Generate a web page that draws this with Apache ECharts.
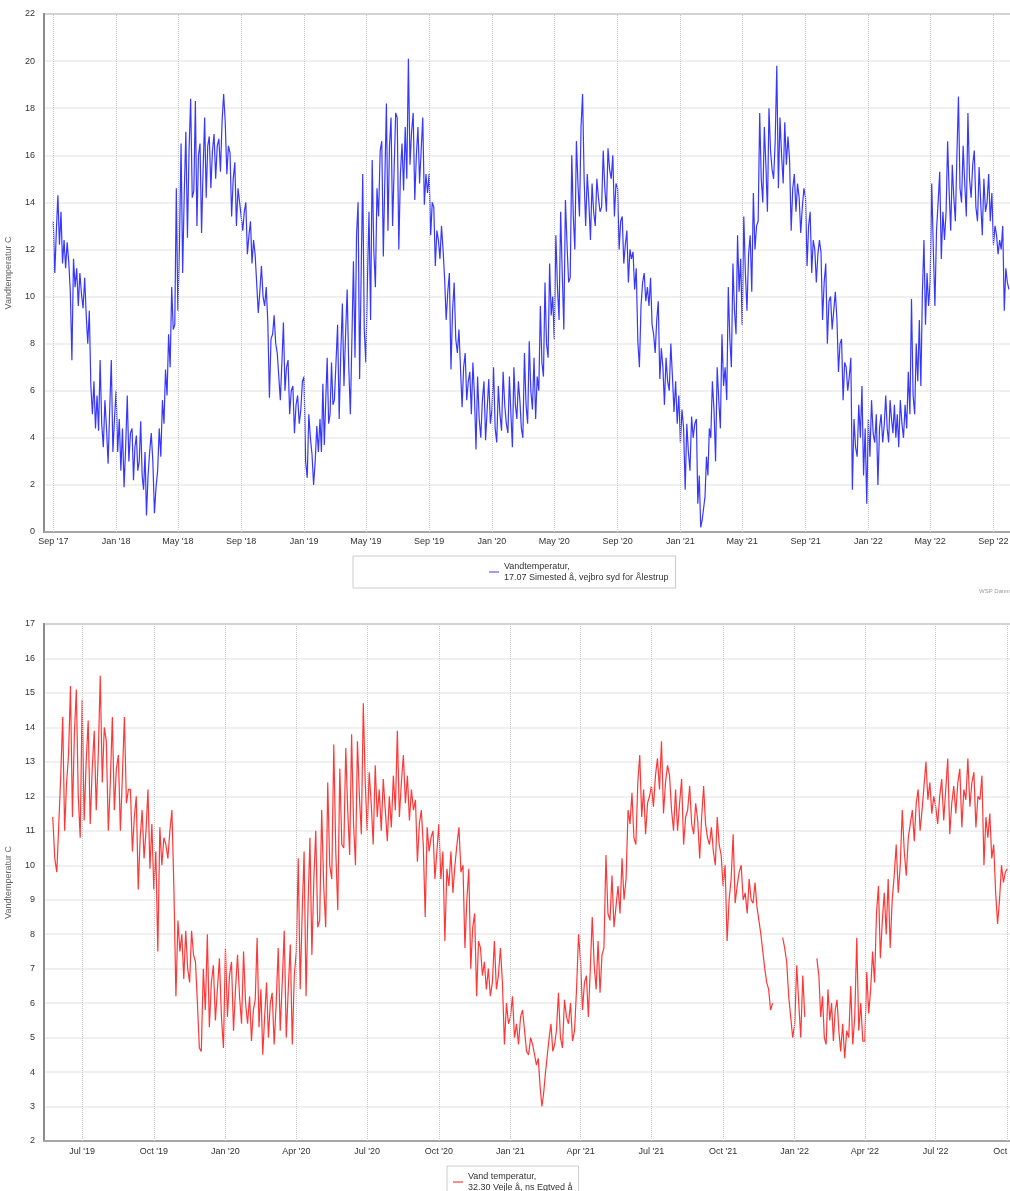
<!DOCTYPE html>
<html>
<head>
<meta charset="utf-8">
<title>Vandtemperatur</title>
<script src="https://cdn.jsdelivr.net/npm/echarts@6/dist/echarts.min.js"></script>
<style>
  html, body { margin: 0; padding: 0; background: #fff; }
  #chart { width: 1010px; height: 1191px; }
</style>
</head>
<body>
<div id="chart"></div>
<script>
// top station: 10 readings per month, from Sep 2017
const topStart = [2017, 9];
const topPerMonth = 10;
const topTemp = [
  13.2, 11.0, 12.8, 14.3, 12.2, 13.6, 11.4, 12.4, 11.2, 12.3,
  11.5, 10.2, 7.3, 11.6, 10.4, 11.2, 9.6, 11.0, 10.1, 9.5,
  10.8, 9.2, 8.0, 9.4, 6.2, 5.0, 6.4, 4.4, 5.8, 4.3,
  7.3, 4.6, 3.6, 5.6, 4.4, 2.9, 5.2, 7.3, 3.4, 4.8,
  6.0, 3.4, 4.8, 2.6, 4.4, 1.9, 3.6, 5.8, 3.0, 4.2,
  4.4, 2.2, 3.6, 4.1, 2.6, 3.0, 4.7, 2.4, 1.8, 3.4,
  0.7, 2.4, 3.4, 4.2, 3.0, 0.8, 1.9, 2.6, 4.4, 3.2,
  5.6, 4.6, 6.9, 5.8, 8.4, 7.0, 10.4, 8.6, 8.8, 14.6,
  9.4, 12.2, 16.5, 11.0, 14.4, 17.0, 12.5, 16.2, 18.4, 14.2,
  14.5, 18.3, 13.0, 16.0, 16.5, 12.7, 15.4, 17.6, 14.2, 16.4,
  16.8, 14.6, 16.2, 16.9, 15.0, 16.4, 16.7, 15.3, 17.4, 18.6,
  17.4, 15.2, 16.4, 16.1, 13.4, 15.0, 15.7, 13.0, 14.6, 14.0,
  14.0, 12.8, 13.6, 14.0, 11.8, 12.6, 13.2, 11.4, 12.4, 11.8,
  10.6, 9.3, 10.2, 11.3, 10.0, 9.6, 10.4, 8.9, 5.7, 8.2,
  8.4, 9.2, 8.0, 7.6, 6.6, 5.6, 7.2, 8.9, 6.0, 7.0,
  7.3, 5.0, 6.0, 6.2, 4.2, 5.4, 5.8, 4.6, 5.2, 6.4,
  6.6, 3.0, 2.3, 5.0, 4.0, 3.3, 2.0, 3.0, 4.5, 3.4,
  4.8, 3.4, 6.3, 3.7, 5.6, 7.4, 4.6, 5.0, 7.2, 5.4,
  5.6, 7.2, 8.8, 4.8, 7.6, 9.7, 6.2, 8.4, 10.3, 7.0,
  5.0, 8.2, 11.5, 7.4, 12.6, 14.0, 6.5, 11.0, 15.2, 8.6,
  7.2, 10.6, 13.6, 9.0, 15.8, 12.0, 10.4, 14.6, 13.4, 16.2,
  16.6, 11.7, 15.0, 18.2, 12.8, 16.4, 17.6, 13.0, 15.4, 17.8,
  17.6, 12.0, 15.2, 16.5, 14.5, 17.2, 15.0, 20.1, 15.6, 17.0,
  17.8, 14.1, 16.0, 17.2, 14.8, 16.2, 17.6, 13.9, 15.2, 14.4,
  15.2, 12.6, 14.0, 13.8, 11.3, 12.8, 12.4, 11.6, 13.0, 12.0,
  10.8, 9.0, 10.2, 11.0, 6.9, 9.4, 10.6, 8.2, 7.6, 8.6,
  6.9, 5.3, 7.0, 7.6, 5.6, 6.4, 6.8, 5.0, 7.2, 5.8,
  3.5, 6.6, 4.8, 4.0, 5.6, 6.4, 3.9, 5.2, 6.5, 4.6,
  5.2, 7.0, 4.4, 3.8, 6.2, 5.0, 4.3, 6.8, 5.4, 4.6,
  4.2, 6.6, 5.0, 3.6, 7.0, 5.4, 4.8, 6.4, 5.6, 4.4,
  4.0, 7.6, 5.4, 4.6, 8.1, 6.0, 5.2, 7.4, 4.8, 6.6,
  6.0, 9.6, 7.2, 6.6, 10.6, 8.0, 7.4, 11.4, 9.2, 10.0,
  8.2, 12.6, 10.4, 9.0, 13.6, 11.0, 8.6, 14.1, 12.2, 10.6,
  10.8, 16.0, 13.4, 12.0, 16.6, 14.8, 13.4, 17.2, 18.6, 15.0,
  13.0, 15.2, 14.0, 12.4, 14.8, 13.6, 13.0, 15.0, 14.2, 13.6,
  13.8, 16.2, 14.6, 13.6, 16.3, 15.4, 15.0, 16.0, 13.4, 14.8,
  14.6, 12.0, 13.2, 13.4, 11.4, 12.2, 12.8, 10.6, 12.0, 11.6,
  11.9, 10.3, 11.2, 8.1, 7.0, 9.6, 10.6, 11.0, 9.8, 10.4,
  9.6, 10.8, 8.8, 8.4, 7.6, 9.0, 9.8, 6.5, 7.8, 7.0,
  5.4, 7.4, 6.4, 6.0, 8.0, 6.6, 5.1, 6.4, 4.6, 5.8,
  3.8, 5.2, 4.4, 1.8, 4.6, 3.4, 2.6, 4.9, 4.0, 4.6,
  4.8, 1.2, 2.4, 0.2, 0.5, 1.0, 1.5, 3.2, 2.4, 4.4,
  4.0, 6.4, 5.2, 3.0, 7.0, 5.6, 4.4, 8.4, 6.2, 7.0,
  5.6, 10.4, 8.2, 7.0, 11.4, 9.4, 8.4, 12.6, 10.2, 11.6,
  8.8, 13.4, 11.0, 9.4, 11.8, 12.6, 10.2, 14.4, 12.0, 13.0,
  13.2, 17.8, 15.0, 14.0, 17.2, 15.6, 13.6, 18.0, 16.2, 15.4,
  15.0, 16.6, 19.8, 14.6, 17.6, 16.0, 14.8, 17.4, 15.6, 16.8,
  15.8, 12.8, 14.6, 15.2, 13.6, 14.8, 14.2, 12.7, 13.8, 14.6,
  14.2, 11.3, 13.0, 13.6, 11.0, 12.4, 12.0, 10.6, 11.8, 12.4,
  11.9, 9.0, 10.6, 11.4, 8.0, 9.8, 10.0, 8.6, 9.4, 10.2,
  9.0, 6.8, 8.0, 8.2, 5.6, 7.2, 7.0, 6.0, 6.6, 7.4,
  1.8, 4.8, 3.6, 3.2, 5.4, 4.0, 6.2, 2.4, 4.4, 1.2,
  4.8, 3.2, 5.6, 4.2, 3.8, 5.0, 2.0, 4.4, 5.0, 3.8,
  4.6, 5.8, 4.4, 3.8, 5.6, 4.8, 4.2, 5.4, 4.0, 5.0,
  3.6, 5.6, 4.6, 4.0, 5.4, 4.4, 6.8, 5.0, 9.9, 5.8,
  5.0, 8.0, 6.4, 9.0, 6.2, 10.2, 12.4, 8.8, 11.0, 9.6,
  10.6, 14.8, 12.0, 9.6, 12.8, 14.0, 15.3, 11.6, 13.6, 12.4,
  13.6, 16.6, 14.4, 12.8, 15.6, 14.2, 13.2, 16.0, 18.5, 14.6,
  14.0, 16.4, 14.8, 13.4, 17.8, 15.0, 14.2, 15.6, 16.2, 13.8,
  13.2, 15.5, 14.0, 12.6, 15.0, 13.6, 14.0, 15.2, 13.2, 14.4,
  12.2, 13.0, 12.6, 11.8, 12.4, 12.0, 13.0, 9.4, 11.2, 10.6,
  10.3
];

// bottom station: 12 readings per month, from May 2019 (null = no reading)
const bottomStart = [2019, 5];
const bottomPerMonth = 12;
const bottomTemp = [
  null, null, null, null, null, null, null, null, null, 11.4, 10.2, 9.8,
  11.2, 12.6, 14.3, 11.0, 12.4, 13.2, 15.2, 11.4, 13.8, 15.1, 12.0, 10.8,
  14.8, 11.3, 13.0, 14.2, 11.2, 12.8, 13.9, 11.6, 13.2, 15.5, 12.4, 14.0,
  13.6, 11.0, 12.4, 14.3, 11.6, 12.8, 13.2, 11.0, 12.6, 14.3, 11.8, 12.2,
  12.2, 10.4, 11.4, 12.0, 9.3, 10.8, 11.6, 10.2, 11.0, 12.2, 9.9, 11.2,
  9.3, 10.4, 7.5, 11.1, 10.0, 10.8, 10.6, 10.2, 11.0, 11.6, 9.3, 6.2,
  8.4, 7.5, 8.0, 6.7, 8.1, 7.0, 6.6, 8.1, 7.4, 7.2, 6.0, 4.7,
  4.6, 7.0, 5.8, 8.0, 5.3, 6.6, 7.1, 5.5, 6.4, 7.3, 5.6, 4.7,
  7.6, 5.6, 6.8, 7.2, 5.2, 6.4, 7.4, 6.2, 5.4, 7.5, 6.0, 5.4,
  6.2, 4.9, 5.8, 6.1, 7.9, 5.3, 6.4, 4.5, 5.6, 6.6, 5.0, 6.0,
  6.3, 4.8, 6.0, 7.6, 5.2, 6.6, 8.1, 5.0, 6.4, 7.7, 4.8, 6.8,
  7.5, 10.2, 6.4, 8.6, 10.4, 6.2, 8.8, 10.8, 7.4, 9.6, 11.0, 8.2,
  8.4, 11.6, 9.4, 8.2, 12.4, 10.0, 9.6, 13.5, 10.4, 8.7, 12.8, 10.6,
  10.5, 13.4, 11.6, 10.3, 13.8, 11.2, 10.0, 13.6, 12.0, 10.9, 14.7, 12.4,
  11.0, 12.7, 11.8, 10.6, 12.9, 11.4, 12.2, 11.0, 12.5, 11.6, 10.7, 12.0,
  11.1, 12.6, 11.6, 13.9, 11.4, 12.4, 13.2, 11.8, 12.6, 11.3, 12.2, 11.6,
  11.9, 10.1, 11.2, 11.6, 10.6, 8.5, 11.1, 10.4, 10.8, 11.0, 9.6, 10.4,
  11.2, 9.6, 10.4, 7.8, 9.9, 9.4, 10.4, 9.2, 10.0, 10.6, 11.1, 9.8,
  10.0, 7.6, 9.0, 9.9, 7.0, 8.2, 8.6, 6.2, 7.8, 7.6, 6.8, 7.2,
  6.4, 7.0, 6.2, 6.6, 7.8, 6.4, 6.8, 7.6, 6.6, 4.8, 6.0, 5.4,
  5.6, 6.2, 5.0, 5.4, 4.8, 5.6, 5.8, 5.2, 4.6, 4.5, 5.0, 4.8,
  4.5, 4.2, 4.4, 3.6, 3.0, 3.4, 4.0, 4.5, 5.0, 5.4, 4.6, 4.8,
  5.2, 6.3, 5.0, 4.7, 6.1, 5.6, 5.4, 6.0, 4.9, 5.2, 6.4, 8.0,
  7.2, 5.8, 6.6, 6.8, 5.6, 7.0, 8.5, 7.1, 6.4, 7.8, 6.3, 7.4,
  7.6, 10.3, 8.6, 8.4, 9.7, 8.2, 8.8, 9.4, 8.6, 10.2, 9.0, 9.6,
  11.6, 11.2, 12.1, 10.8, 10.6, 12.4, 13.2, 11.4, 12.2, 10.9, 11.8, 12.0,
  12.3, 11.7, 12.6, 13.1, 12.2, 13.6, 11.5, 12.4, 12.9, 12.6, 11.6, 11.0,
  12.2, 11.0, 11.8, 12.5, 10.6, 11.4, 11.6, 12.3, 11.2, 10.9, 11.8, 11.3,
  10.2, 11.4, 12.3, 11.2, 10.8, 10.6, 11.1, 10.4, 10.0, 11.4, 10.6, 10.3,
  9.4, 10.0, 7.8, 9.0, 9.6, 10.9, 8.9, 9.4, 9.8, 10.0, 9.0, 9.2,
  8.6, 9.6, 9.0, 8.9, 9.5, 8.8, 8.4, 8.0, 7.5, 7.0, 6.6, 6.4,
  5.8, 6.0, null, null, null, null, 7.9, 7.6, 7.2, 6.2, 5.6, 5.0,
  5.4, 7.1, 6.0, 5.0, 6.8, 5.6, null, null, null, null, null, 7.3,
  6.8, 5.6, 6.2, 5.0, 4.8, 6.4, 5.5, 6.0, 4.9, 5.8, 6.1, 5.2,
  4.6, 5.4, 4.4, 5.2, 5.0, 6.5, 4.8, 5.6, 7.9, 5.2, 6.0, 4.9,
  4.9, 6.9, 5.7, 6.4, 7.5, 6.6, 8.6, 9.4, 7.3, 8.4, 9.2, 8.0,
  9.6, 7.6, 9.0, 9.7, 10.6, 9.2, 10.0, 11.6, 10.4, 9.7, 10.8, 11.2,
  11.6, 10.7, 11.8, 12.2, 11.0, 11.6, 12.3, 13.0, 11.9, 12.4, 11.5, 12.0,
  11.7, 11.2, 12.0, 12.5, 11.3, 12.2, 13.1, 10.9, 11.8, 12.3, 11.5, 12.4,
  12.8, 11.1, 12.2, 11.9, 13.1, 11.7, 12.4, 12.7, 11.1, 12.0, 11.9, 12.6,
  10.0, 11.4, 10.8, 11.5, 10.2, 10.6, 9.2, 8.3, 9.0, 10.0, 9.5, 9.8,
  9.9
];

const topTicks = ['2017-09', '2018-01', '2018-05', '2018-09', '2019-01', '2019-05', '2019-09', '2020-01',
  '2020-05', '2020-09', '2021-01', '2021-05', '2021-09', '2022-01', '2022-05', '2022-09'];
const bottomTicks = ['2019-07', '2019-10', '2020-01', '2020-04', '2020-07', '2020-10', '2021-01', '2021-04',
  '2021-07', '2021-10', '2022-01', '2022-04', '2022-07', '2022-10'];
const topRange = ['2017-08-14', '2022-10-07'];
const bottomRange = ['2019-05-13', '2022-10-07'];

const topName = 'Vandtemperatur,\n17.07 Simested å, vejbro syd for Ålestrup';
const bottomName = 'Vand temperatur,\n32.30 Vejle å, ns Egtved å';
const monthNames = ['Jan', 'Feb', 'Mar', 'Apr', 'May', 'Jun', 'Jul', 'Aug', 'Sep', 'Oct', 'Nov', 'Dec'];

function toDate(s) {
  const p = s.split('-').map(Number);
  return new Date(p[0], p[1] - 1, p[2] || 1).getTime();
}

// spread the readings of each month evenly over that month
function buildSeries(start, perMonth, values) {
  return values.map(function (v, i) {
    const m = start[1] - 1 + Math.floor(i / perMonth);
    const first = new Date(start[0], m, 1).getTime();
    const next = new Date(start[0], m + 1, 1).getTime();
    return [first + (next - first) * (i % perMonth) / perMonth, v];
  });
}

function fmtMonth(v) {
  const d = new Date(v);
  return monthNames[d.getMonth()] + " '" + String(d.getFullYear()).slice(2);
}

// x axis holds timestamps; month ticks placed by hand from the tick list
function xAxisFor(idx, ticks, range, margin) {
  const vals = ticks.map(toDate);
  return {
    type: 'value',
    gridIndex: idx,
    min: toDate(range[0]),
    max: toDate(range[1]),
    scale: true,
    axisLine: { show: true, lineStyle: { color: '#a6a6a6', width: 2 } },
    axisTick: { show: false, customValues: vals },
    splitLine: { show: false },
    axisLabel: {
      customValues: vals,
      formatter: fmtMonth,
      fontSize: 9,
      color: '#333',
      margin: margin,
      hideOverlap: false,
      overflow: 'none'
    }
  };
}

function yAxisFor(idx, min, max, interval) {
  return {
    type: 'value',
    gridIndex: idx,
    min: min,
    max: max,
    interval: interval,
    name: 'Vandtemperatur C',
    nameLocation: 'middle',
    nameGap: 31,
    nameTextStyle: { fontSize: 9, color: '#666' },
    axisLine: { show: true, lineStyle: { color: '#8c8c8c', width: 2 } },
    axisTick: { show: false },
    axisLabel: { fontSize: 9, color: '#333', margin: 9 },
    splitLine: { lineStyle: { color: '#ebebeb', width: 1.5 } }
  };
}

// dotted vertical lines at the month ticks, drawn under the data
function tickLines(idx, ticks) {
  return {
    type: 'line',
    xAxisIndex: idx,
    yAxisIndex: idx,
    data: [],
    z: 1,
    silent: true,
    markLine: {
      silent: true,
      symbol: ['none', 'none'],
      label: { show: false },
      lineStyle: { type: 'dotted', color: '#c8c8c8', width: 1 },
      data: ticks.map(function (t) { return { xAxis: toDate(t) }; })
    }
  };
}

const chart = echarts.init(document.getElementById('chart'));

const option = {
  animation: false,
  backgroundColor: '#fff',
  textStyle: { fontFamily: 'Liberation Sans, Arial, sans-serif' },
  grid: [
    { left: 44, top: 14, width: 968, height: 518, outerBoundsMode: 'none',
      show: true, borderColor: '#8c8c8c', borderWidth: 2 },
    { left: 44, top: 624, width: 968, height: 517, outerBoundsMode: 'none',
      show: true, borderColor: '#8c8c8c', borderWidth: 2 }
  ],
  xAxis: [
    xAxisFor(0, topTicks, topRange, 5),
    xAxisFor(1, bottomTicks, bottomRange, 6)
  ],
  yAxis: [
    yAxisFor(0, 0, 22, 2),
    yAxisFor(1, 2, 17, 1)
  ],
  legend: [
    {
      data: [topName],
      left: 353,
      top: 556,
      padding: [5, 7, 5, 136],
      borderColor: '#cccccc',
      borderWidth: 1,
      icon: 'rect',
      itemWidth: 10,
      itemHeight: 2,
      itemStyle: { color: '#9c9cff' },
      textStyle: { fontSize: 9, color: '#333', lineHeight: 11 }
    },
    {
      data: [bottomName],
      left: 447,
      top: 1166,
      padding: [5, 6, 5, 6],
      borderColor: '#cccccc',
      borderWidth: 1,
      icon: 'rect',
      itemWidth: 10,
      itemHeight: 2,
      itemStyle: { color: '#ff8c8c' },
      textStyle: { fontSize: 9, color: '#333', lineHeight: 11 }
    }
  ],
  graphic: [
    { type: 'text', left: 979, top: 588, style: { text: 'WSP Danmark', fontSize: 6, fill: '#999' } }
  ],
  series: [
    tickLines(0, topTicks),
    tickLines(1, bottomTicks),
    {
      name: topName,
      type: 'line',
      xAxisIndex: 0,
      yAxisIndex: 0,
      symbol: 'none',
      connectNulls: false,
      z: 2,
      itemStyle: { color: '#1414ff' },
      lineStyle: { color: '#1414ff', width: 1.2, opacity: 0.85 },
      data: buildSeries(topStart, topPerMonth, topTemp)
    },
    {
      name: bottomName,
      type: 'line',
      xAxisIndex: 1,
      yAxisIndex: 1,
      symbol: 'none',
      connectNulls: false,
      z: 2,
      itemStyle: { color: '#ff1414' },
      lineStyle: { color: '#ff1414', width: 1.2, opacity: 0.85 },
      data: buildSeries(bottomStart, bottomPerMonth, bottomTemp)
    }
  ]
};

chart.setOption(option);
window.addEventListener('resize', function () { chart.resize(); });
</script>
</body>
</html>
